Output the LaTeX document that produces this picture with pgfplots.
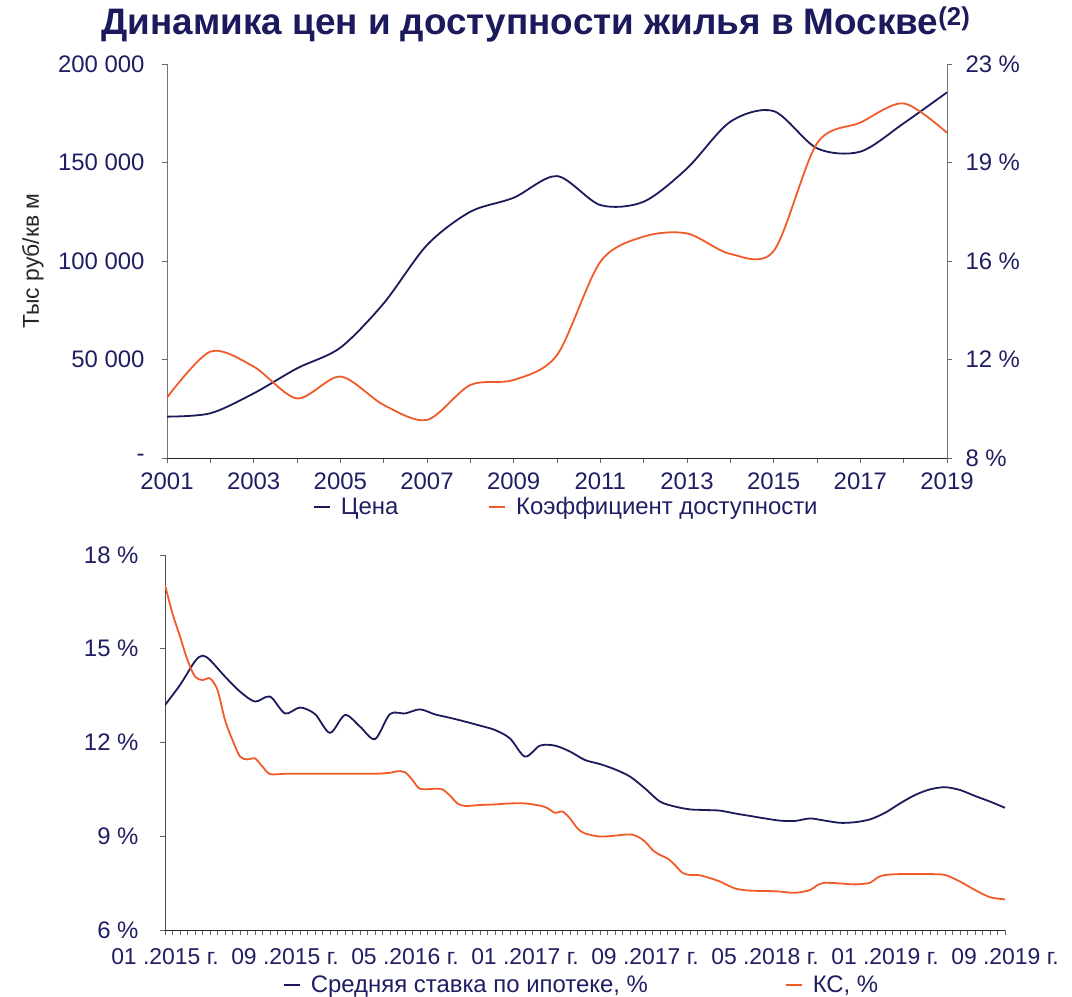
\documentclass[border=0pt]{standalone}
\usepackage{fontspec}
\setmainfont{Liberation Sans}
\usepackage{pgfplots}
\pgfplotsset{compat=1.18}
\definecolor{navy}{HTML}{1B1A5C}
\definecolor{orng}{HTML}{F15A29}
\definecolor{txt}{HTML}{1F1E62}
\pgfplotsset{
  common/.style={
    scale only axis,
    scaled y ticks=false,
    tick align=outside,
    major tick length=5bp, minor tick length=5bp,
    tick style={black!60, line width=0.8bp},
    tick label style={font=\fontsize{24}{28}\selectfont, text=txt},
    legend style={draw=none, fill=none, font=\fontsize{24}{28}\selectfont, text=txt, legend columns=2,
      /tikz/every odd column/.append style={column sep=8bp}},
    legend image code/.code={\draw[#1, line width=1.8bp] (0bp,0bp) -- (16bp,0bp);},
  }
}
\begin{document}
\begin{tikzpicture}
\path[use as bounding box] (0bp,0bp) rectangle (1072bp,-997bp);
\node[font=\fontsize{37}{42}\selectfont\bfseries, text=navy, anchor=base] at (536bp,-34bp) {Динамика цен и доступности жилья в Москве\textsuperscript{(2)}};

% ---------- top chart, left axis ----------
\begin{axis}[common,
  at={(167bp,-458bp)}, anchor=south west, width=780bp, height=394bp,
  xmin=2001, xmax=2019, ymin=0, ymax=200000,
  axis x line*=bottom, axis y line*=left,
  x axis line style={black!85, line width=0.9bp}, y axis line style={black!55, line width=0.9bp},
  xtick={2001,2003,...,2019}, minor x tick num=1,
  xticklabels={2001,2003,2005,2007,2009,2011,2013,2015,2017,2019},
  xticklabel style={yshift=-6bp},
  yticklabel style={xshift=-14bp},
  ytick={0,50000,100000,150000,200000},
  yticklabels={-,50 000,100 000,150 000,200 000},
  ylabel={Тыс руб/кв м},
  every axis y label/.style={at={(axis description cs:-0.172,0.5)}, rotate=90, anchor=center, font=\fontsize{23}{27}\selectfont, text=black!85},
  legend style={at={(axis description cs:0.512,-0.124)}, anchor=center},
  /tikz/every even column/.append style={column sep=88bp},
]
\addplot[navy, line width=1.8bp, smooth, tension=0.5] coordinates {
(2001,21000) (2002,22700) (2003,32800) (2004,45500) (2005,56000) (2006,78500)
(2007,108100) (2008,125000) (2009,132100) (2010,143100) (2011,128400) (2012,130100)
(2013,147000) (2014,170700) (2015,176100) (2016,157200) (2017,155500) (2018,169900) (2019,185600)};
\addlegendentry{Цена}
\addlegendimage{orng}
\addlegendentry{Коэффициент доступности}
\end{axis}

% ---------- top chart, right axis ----------
\begin{axis}[common,
  at={(167bp,-458bp)}, anchor=south west, width=780bp, height=394bp,
  xmin=2001, xmax=2019, ymin=8, ymax=23,
  axis y line*=right, axis x line=none,
  y axis line style={black!55, line width=0.9bp},
  yticklabel style={xshift=10bp},
  ytick={8,11.75,15.5,19.25,23},
  yticklabels={8 \%,12 \%,16 \%,19 \%,23 \%},
]
\addplot[orng, line width=1.8bp, smooth, tension=0.5] coordinates {
(2001,10.30) (2002,12.05) (2003,11.48) (2004,10.27) (2005,11.10) (2006,10.02)
(2007,9.45) (2008,10.78) (2009,10.97) (2010,11.92) (2011,15.47) (2012,16.43)
(2013,16.55) (2014,15.77) (2015,15.88) (2016,19.98) (2017,20.77) (2018,21.50) (2019,20.38)};
\end{axis}

% ---------- bottom chart ----------
\begin{axis}[common,
  at={(165bp,-930bp)}, anchor=south west, width=840bp, height=375bp,
  xmin=0, xmax=56, ymin=6, ymax=18,
  axis x line*=bottom, axis y line*=left,
  x axis line style={black!85, line width=0.9bp}, y axis line style={black!70, line width=0.9bp},
  xtick={0,8,...,56}, minor x tick num=15,
  xticklabels={01 .2015 г.,09 .2015 г.,05 .2016 г.,01 .2017 г.,09 .2017 г.,05 .2018 г.,01 .2019 г.,09 .2019 г.},
  xticklabel style={yshift=-10bp, font=\fontsize{23}{27}\selectfont},
  yticklabel style={xshift=-18bp},
  ytick={6,9,12,15,18},
  yticklabels={6 \%,9 \%,12 \%,15 \%,18 \%},
  legend style={at={(axis description cs:0.496,-0.147)}, anchor=center},
  /tikz/every even column/.append style={column sep=135bp},
]
\addplot[navy, line width=1.8bp, smooth, tension=0.5] coordinates {
(0,13.2) (1,13.84) (2,14.6) (2.5,14.78) (3,14.64) (4,14.11) (5,13.63) (6,13.31) (7,13.47)
(8,12.93) (9,13.12) (10,12.91) (11,12.31) (12,12.88) (13,12.51) (14,12.11) (15,12.91)
(16,12.93) (17,13.06) (18,12.90) (19,12.79) (20,12.67) (21,12.54) (22,12.40) (23,12.13)
(24,11.55) (25,11.90) (26,11.90) (27,11.71) (28,11.44) (29,11.31) (30,11.14) (31,10.91)
(32,10.53) (33,10.11) (34,9.95) (35,9.86) (36,9.84) (37,9.82) (38,9.73) (39,9.65)
(40,9.57) (41,9.50) (42,9.49) (43,9.57) (44,9.50) (45,9.43) (46,9.45) (47,9.54)
(48,9.75) (49,10.05) (50,10.32) (51,10.50) (52,10.57) (53,10.48) (54,10.29) (55,10.11) (56,9.91)};
\addlegendentry{Средняя ставка по ипотеке, \%}
\addplot[orng, line width=1.8bp, smooth, tension=0.5] coordinates {
(0,17.04) (0.5,16.13) (1,15.39) (1.5,14.64) (2,14.11) (2.5,14.0) (3,14.05) (3.5,13.68)
(4,12.72) (4.5,12.08) (5,11.55) (5.5,11.46) (6,11.49) (6.5,11.23) (7,10.99) (8,11.0)
(9,11.0) (10,11.0) (11,11.0) (12,11.0) (13,11.0) (14,11.0) (15,11.03) (15.5,11.08)
(16,11.05) (16.5,10.8) (17,10.52) (18,10.52) (18.5,10.5) (19,10.3) (19.5,10.05) (20,9.97)
(21,10.0) (22,10.02) (23,10.05) (24,10.05) (25,9.98) (25.5,9.9) (26,9.75) (26.5,9.79)
(27,9.57) (27.5,9.25) (28,9.09) (29,8.99) (30,9.02) (31,9.06) (31.5,8.99) (32,8.83)
(32.5,8.56) (33,8.40) (33.5,8.29) (34,8.08) (34.5,7.83) (35,7.76) (35.5,7.76) (36,7.71)
(37,7.55) (38,7.33) (39,7.26) (40,7.25) (41,7.23) (42,7.19) (43,7.28) (43.5,7.44)
(44,7.51) (45,7.49) (46,7.46) (47,7.51) (47.5,7.68) (48,7.76) (49,7.79) (50,7.79)
(51,7.79) (52,7.76) (53,7.55) (54,7.28) (55,7.05) (56,6.98)};
\addlegendentry{КС, \%}
\end{axis}
\end{tikzpicture}
\end{document}
